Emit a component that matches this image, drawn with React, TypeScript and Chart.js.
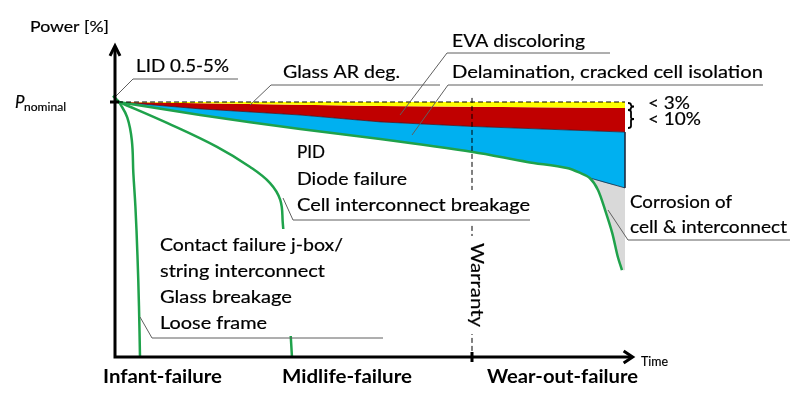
import React, { useEffect, useRef } from "react";
import { Chart, registerables } from "chart.js";
Chart.register(...registerables);

// Time axis: 0..100 (lifetime units), power axis: % of P_nominal
const nominalTime = [0.6, 100];
const nominalPower = [100, 100];

const yellowTime = [0.6, 52, 100];
const yellowPower = [100, 98.4, 97.6];

const redTime = [0.6, 16.7, 36.3, 52, 70.2, 100];
const redPower = [100, 97.3, 94.9, 92.2, 90.4, 88.2];

const wearOutTime = [0.6, 16.7, 36.3, 52.0, 70.2, 80.8, 88.6, 91.2, 93.1, 94.7, 96.1, 97.5, 98.6, 99.4];
const wearOutPower = [100, 94.9, 89.4, 85.5, 80.4, 76.5, 74.1, 72.2, 70.2, 65.5, 57.6, 48.6, 39.2, 34.1];
const wearOutSplit = 8;
const blueEndTime = 100;
const blueEndPower = 66.3;
const grayEndPower = 34.1;

const midlifeTime = [0.8, 10.2, 20.0, 26.5, 30.4, 32.4, 32.9, 33.9, 34.7];
const midlifePower = [100, 91.8, 82.4, 74.5, 68.2, 61.6, 52.5, 26.3, 0];

const infantTime = [0.8, 2.4, 3.3, 3.6, 4.0, 4.4, 4.7, 4.9];
const infantPower = [100, 94, 85, 72, 59, 40, 20, 0];

const lidTime = [-0.4, 0.2, 0.8];
const lidPower = [102.4, 101.2, 100];

const warrantyTime = 70;
const warrantyTop = 101.6;
const powerAxisTop = 122;
const timeAxisEnd = 101.5;

type Label = { t: string; x: number; b: number; s: number; w: number; bold?: boolean; italic?: boolean; rot?: number };
const LABELS: Label[] = [
  { t: "Power [%]", x: 30, b: 32, s: 15.5, w: 79 },
  { t: "LID 0.5-5%", x: 136, b: 72, s: 17.5, w: 93 },
  { t: "Glass AR deg.", x: 283, b: 78, s: 17.5, w: 117 },
  { t: "EVA discoloring", x: 452, b: 47, s: 17.5, w: 133 },
  { t: "Delamination, cracked cell isolation", x: 452, b: 78, s: 17.5, w: 311 },
  { t: "PID", x: 297, b: 158, s: 17.5, w: 28 },
  { t: "Diode failure", x: 297, b: 185, s: 17.5, w: 110 },
  { t: "Cell interconnect breakage", x: 297, b: 211, s: 17.5, w: 233 },
  { t: "Contact failure j-box/", x: 160, b: 251, s: 17.5, w: 183 },
  { t: "string interconnect", x: 160, b: 277, s: 17.5, w: 165 },
  { t: "Glass breakage", x: 160, b: 303, s: 17.5, w: 132 },
  { t: "Loose frame", x: 160, b: 329, s: 17.5, w: 107 },
  { t: "Corrosion of", x: 630, b: 208, s: 17.5, w: 102 },
  { t: "cell & interconnect", x: 630, b: 233, s: 17.5, w: 157 },
  { t: "< 3%", x: 648, b: 109, s: 17.5, w: 42 },
  { t: "< 10%", x: 648, b: 125, s: 17.5, w: 53 },
  { t: "Time", x: 641, b: 366, s: 14, w: 27 },
  { t: "Infant-failure", x: 103, b: 383, s: 19, w: 119, bold: true },
  { t: "Midlife-failure", x: 282, b: 383, s: 19, w: 130, bold: true },
  { t: "Wear-out-failure", x: 487, b: 383, s: 19, w: 151, bold: true },
  { t: "P", x: 15, b: 108, s: 16.5, w: 9.5, italic: true },
  { t: "nominal", x: 24, b: 111, s: 12, w: 42 },
  { t: "Warranty", x: 471, b: 243, s: 17, w: 84, rot: Math.PI / 2 },
];

const LEADERS: number[][][] = [
  [[115, 97], [133, 79], [238, 79]],
  [[250, 105], [271, 85], [440, 85]],
  [[400, 115], [447, 53], [610, 53]],
  [[412, 135], [448, 85], [763, 85]],
  [[283, 198], [293, 220], [530, 220]],
  [[140, 317], [152, 338], [383, 338]],
  [[608, 210], [628, 240], [790, 240]],
];

const BG_RECTS = [
  [295, 190, 237, 34],
  [155, 229, 228, 107],
  [464, 236, 22, 98],
];

const BRACES = [
  [103, 110],
  [110, 128],
];

const pts = (xs: number[], ys: number[]) => xs.map((x, i) => ({ x, y: ys[i] }));

const FONT = 'Lato, "DejaVu Sans", sans-serif';

function drawText(ctx: CanvasRenderingContext2D, l: Label) {
  ctx.save();
  ctx.font = `${l.italic ? "italic " : ""}${l.bold ? "bold " : ""}${l.s}px ${FONT}`;
  ctx.textBaseline = "alphabetic";
  ctx.textAlign = "left";
  const m = ctx.measureText(l.t).width;
  ctx.translate(l.x, l.b);
  if (l.rot) ctx.rotate(l.rot);
  ctx.scale(l.w / m, 1);
  ctx.fillStyle = "#000";
  ctx.fillText(l.t, 0, 0);
  if (!l.bold) {
    ctx.strokeStyle = "#000";
    ctx.lineWidth = 0.2;
    ctx.lineJoin = "round";
    ctx.strokeText(l.t, 0, 0);
  }
  ctx.restore();
}

const annotate = {
  id: "annotate",
  afterDatasetsDraw(chart: any) {
    const { ctx, scales } = chart;
    const X = (v: number) => scales.x.getPixelForValue(v);
    const Y = (v: number) => scales.y.getPixelForValue(v);
    ctx.save();
    // warranty dashed line
    ctx.strokeStyle = "#000";
    ctx.lineWidth = 1;
    ctx.setLineDash([5, 3]);
    ctx.beginPath();
    ctx.moveTo(X(warrantyTime), Y(warrantyTop));
    ctx.lineTo(X(warrantyTime), Y(0));
    ctx.stroke();
    ctx.setLineDash([]);
    // white text boxes
    ctx.fillStyle = "#fff";
    for (const r of BG_RECTS) ctx.fillRect(r[0], r[1], r[2], r[3]);
    // leader lines
    ctx.strokeStyle = "#5f5f5f";
    ctx.lineWidth = 1;
    for (const L of LEADERS) {
      ctx.beginPath();
      ctx.moveTo(L[0][0], L[0][1]);
      for (let i = 1; i < L.length; i++) ctx.lineTo(L[i][0], L[i][1]);
      ctx.stroke();
    }
    // axes
    const x0 = X(0), y0 = Y(0), yTop = Y(powerAxisTop), xEnd = X(timeAxisEnd);
    ctx.strokeStyle = "#000";
    ctx.lineWidth = 3;
    ctx.lineCap = "butt";
    ctx.beginPath();
    ctx.moveTo(x0, y0 + 1.5);
    ctx.lineTo(x0, yTop + 1);
    ctx.moveTo(x0 - 1.5, y0);
    ctx.lineTo(xEnd - 1, y0);
    ctx.stroke();
    ctx.lineJoin = "miter";
    ctx.beginPath();
    ctx.moveTo(x0 - 5, yTop + 10);
    ctx.lineTo(x0, yTop);
    ctx.lineTo(x0 + 5, yTop + 10);
    ctx.moveTo(xEnd - 9, y0 - 6);
    ctx.lineTo(xEnd, y0);
    ctx.lineTo(xEnd - 9, y0 + 6);
    ctx.stroke();
    // ticks
    ctx.beginPath();
    ctx.moveTo(x0 - 5, Y(100));
    ctx.lineTo(x0 + 4, Y(100));
    ctx.moveTo(X(warrantyTime), y0 - 5);
    ctx.lineTo(X(warrantyTime), y0 + 5);
    ctx.stroke();
    // braces
    ctx.lineWidth = 1.8;
    const bx = X(100) + 3;
    for (const [a, b] of BRACES) {
      const m = (a + b) / 2;
      ctx.beginPath();
      ctx.moveTo(bx, a);
      ctx.quadraticCurveTo(bx + 3, a, bx + 3, a + 2);
      ctx.lineTo(bx + 3, m - 1.5);
      ctx.quadraticCurveTo(bx + 3, m, bx + 6, m);
      ctx.quadraticCurveTo(bx + 3, m, bx + 3, m + 1.5);
      ctx.lineTo(bx + 3, b - 2);
      ctx.quadraticCurveTo(bx + 3, b, bx, b);
      ctx.stroke();
    }
    // texts
    for (const l of LABELS) drawText(ctx, l);
    ctx.restore();
  },
};

export default function App() {
  const ref = useRef<HTMLCanvasElement>(null);
  useEffect(() => {
    document.body.style.margin = "0";
    const blueBottom = [
      ...pts(wearOutTime.slice(0, wearOutSplit + 1), wearOutPower.slice(0, wearOutSplit + 1)),
      { x: blueEndTime, y: blueEndPower },
    ];
    const grayTop = [
      { x: wearOutTime[wearOutSplit], y: wearOutPower[wearOutSplit] },
      { x: blueEndTime, y: blueEndPower },
    ];
    const grayBottom = [
      ...pts(wearOutTime.slice(wearOutSplit), wearOutPower.slice(wearOutSplit)),
      { x: blueEndTime, y: grayEndPower },
    ];
    const blueEdge = [
      { x: blueEndTime, y: redPower[redPower.length - 1] },
      { x: blueEndTime, y: blueEndPower },
    ];
    const green = "#1fa24b";
    const base = { pointRadius: 0, clip: false as any, tension: 0 };
    const chart = new Chart(ref.current!, {
      type: "line",
      data: {
        datasets: [
          { ...base, data: pts(nominalTime, nominalPower), borderColor: "#000", borderWidth: 1.2, borderDash: [5, 3], fill: false, order: 1 },
          { ...base, data: pts(yellowTime, yellowPower), borderWidth: 0, borderColor: "rgba(0,0,0,0)", backgroundColor: "#ffff00", fill: 0, order: 5 },
          { ...base, data: pts(redTime, redPower), borderWidth: 1, borderColor: "rgba(40,30,50,0.75)", backgroundColor: "#c00000", fill: 1, order: 6 },
          { ...base, data: blueBottom, tension: 0.3, borderWidth: 0, borderColor: "rgba(0,0,0,0)", backgroundColor: "#00b0f0", fill: 2, order: 7 },
          { ...base, data: grayBottom, tension: 0.3, borderWidth: 0, borderColor: "rgba(0,0,0,0)", backgroundColor: "#d9d9d9", fill: 5, order: 8 },
          { ...base, data: grayTop, borderWidth: 1, borderColor: "rgba(30,40,60,0.8)", fill: false, order: 4 },
          { ...base, data: blueEdge, borderWidth: 1, borderColor: "rgba(30,40,60,0.8)", fill: false, order: 4 },
          { ...base, data: pts(wearOutTime, wearOutPower), tension: 0.3, borderColor: green, borderWidth: 2.5, fill: false, order: 2 },
          { ...base, data: pts(midlifeTime, midlifePower), tension: 0.4, borderColor: green, borderWidth: 2.5, fill: false, order: 2 },
          { ...base, data: pts(infantTime, infantPower), tension: 0.4, borderColor: green, borderWidth: 2.5, fill: false, order: 2 },
          { ...base, data: pts(lidTime, lidPower), tension: 0.4, borderColor: green, borderWidth: 2.5, fill: false, order: 2 },
        ] as any,
      },
      options: {
        animation: false,
        responsive: true,
        maintainAspectRatio: false,
        events: [],
        layout: { padding: { left: 115, right: 175, top: 102, bottom: 36 } },
        elements: { line: { capBezierPoints: false }, point: { radius: 0 } },
        scales: {
          x: { type: "linear", min: 0, max: 100, display: false },
          y: { type: "linear", min: 0, max: 100, display: false },
        },
        plugins: { legend: { display: false }, tooltip: { enabled: false }, filler: { propagate: false } },
      } as any,
      plugins: [annotate],
    });
    return () => chart.destroy();
  }, []);
  return (
    <div style={{ position: "relative", width: 800, height: 393 }}>
      <canvas ref={ref} />
    </div>
  );
}
